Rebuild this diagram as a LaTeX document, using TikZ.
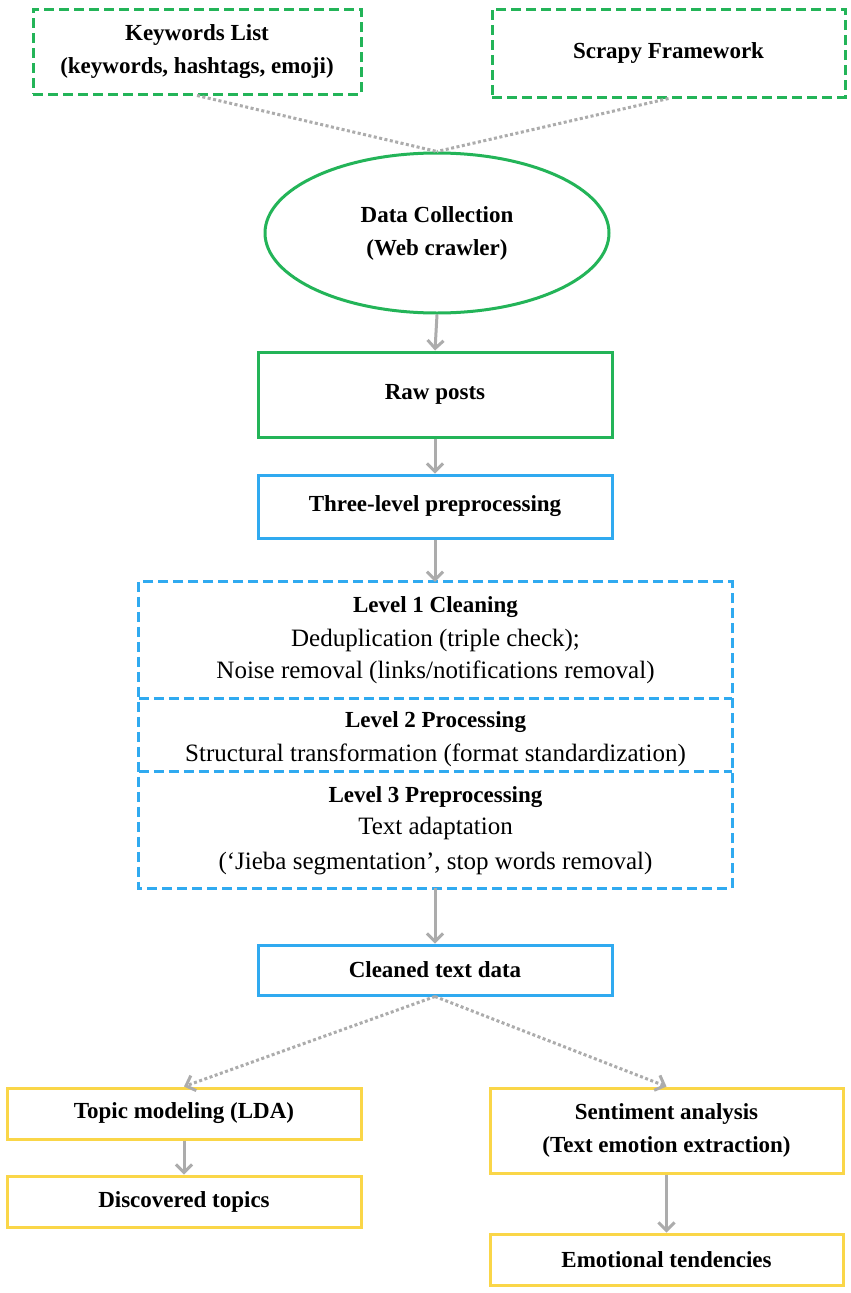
\documentclass[tikz,border=0pt]{standalone}
\usepackage{fontspec}
\setmainfont{Liberation Serif}
\usetikzlibrary{arrows.meta,shapes.geometric}
\definecolor{cgreen}{RGB}{35,180,88}
\definecolor{cblue}{RGB}{48,170,240}
\definecolor{cyellow}{RGB}{250,214,72}
\definecolor{cgray}{RGB}{172,172,172}
\tikzset{
  x=1pt, y=-1pt,
  bfont/.style={font=\fontsize{23}{33}\selectfont\bfseries},
  box/.style={rectangle, line width=3pt, align=center, inner sep=0pt, bfont},
  greendash/.style={box, draw=cgreen, dash pattern=on 10pt off 5pt},
  greenbox/.style={box, draw=cgreen},
  bluebox/.style={box, draw=cblue},
  yellowbox/.style={box, draw=cyellow},
  section/.style={rectangle, inner sep=0pt, align=center, minimum width=593pt,
    font=\fontsize{25}{34}\selectfont},
  bluedash/.style={draw=cblue, line width=3pt, dash pattern=on 10pt off 5pt},
  flow/.style={draw=cgray, line width=3pt, -{Straight Barb[length=8pt,width=16pt]}},
  dotline/.style={draw=cgray, line width=3pt, dash pattern=on 3pt off 2.5pt},
  dotflow/.style={dotline, -{Straight Barb[length=8pt,width=16pt]}},
}
\newcommand{\lvtitle}[1]{{\bfseries\fontsize{23}{34}\selectfont #1}}
\begin{document}
\begin{tikzpicture}
\useasboundingbox[fill=white] (0,0) rectangle (851,1293);

\node[greendash, minimum width=328pt, minimum height=85pt] (kw) at (197,51.5)
  {Keywords List\\(keywords, hashtags, emoji)};
\node[greendash, minimum width=353pt, minimum height=88pt] (sc) at (668.5,53)
  {Scrapy Framework};
\node[ellipse, draw=cgreen, line width=3pt, bfont, align=center, inner sep=0pt,
  minimum width=344pt, minimum height=160pt] (dc) at (437,233)
  {Data Collection\\(Web crawler)};

\node[greenbox, minimum width=354pt, minimum height=85pt] (raw) at (435,394.5) {Raw posts};
\node[bluebox, minimum width=354pt, minimum height=63pt] (three) at (435,506.5) {Three-level preprocessing};

\node[section, minimum height=116pt] (l1) at (435.5,640) {};
\node[section, minimum height=73pt] (l2) at (435.5,734.5) {};
\node[section, minimum height=117pt] (l3) at (435.5,829.5) {};
\node[section, anchor=center] (t1) at (435.5,640)
  {\lvtitle{Level 1 Cleaning}\\
   Deduplication (triple check);\\[-2pt]
   Noise removal (links/notifications removal)};
\node[section, anchor=center] (t2) at (435.5,739)
  {\lvtitle{Level 2 Processing}\\
   Structural transformation (format standardization)};
\node[section, anchor=center] (t3) at (435.5,831)
  {\lvtitle{Level 3 Preprocessing}\\[-2pt]
   Text adaptation\\[1pt]
   (‘Jieba segmentation’, stop words removal)};
\draw[bluedash] (l1.north west) rectangle (l3.south east);
\draw[bluedash] (l1.south west) -- (l1.south east);
\draw[bluedash] (l2.south west) -- (l2.south east);

\node[bluebox, minimum width=354pt, minimum height=50pt] (clean) at (435,970) {Cleaned text data};

\node[yellowbox, minimum width=354pt, minimum height=51pt] (topic) at (184,1113.5) {Topic modeling (LDA)};
\node[yellowbox, minimum width=354pt, minimum height=51pt] (disc) at (184,1201.5) {Discovered topics};
\node[yellowbox, minimum width=353pt, minimum height=85pt] (sent) at (666.5,1130.5)
  {Sentiment analysis\\(Text emotion extraction)};
\node[yellowbox, minimum width=353pt, minimum height=51pt] (emo) at (666.5,1259.5) {Emotional tendencies};

\draw[dotline] (kw.south) -- (dc.north);
\draw[dotline] (sc.south) -- (dc.north);
\draw[flow] (dc.south) -- (raw.north);
\draw[flow] (raw.south) -- (three.north);
\draw[flow] (three.south) -- (three.south |- l1.north);
\draw[flow] (clean.north |- l3.south) -- (clean.north);
\draw[dotflow] (clean.south) -- (topic.north);
\draw[dotflow] (clean.south) -- (sent.north);
\draw[flow] (topic.south) -- (disc.north);
\draw[flow] (sent.south) -- (emo.north);
\end{tikzpicture}
\end{document}
